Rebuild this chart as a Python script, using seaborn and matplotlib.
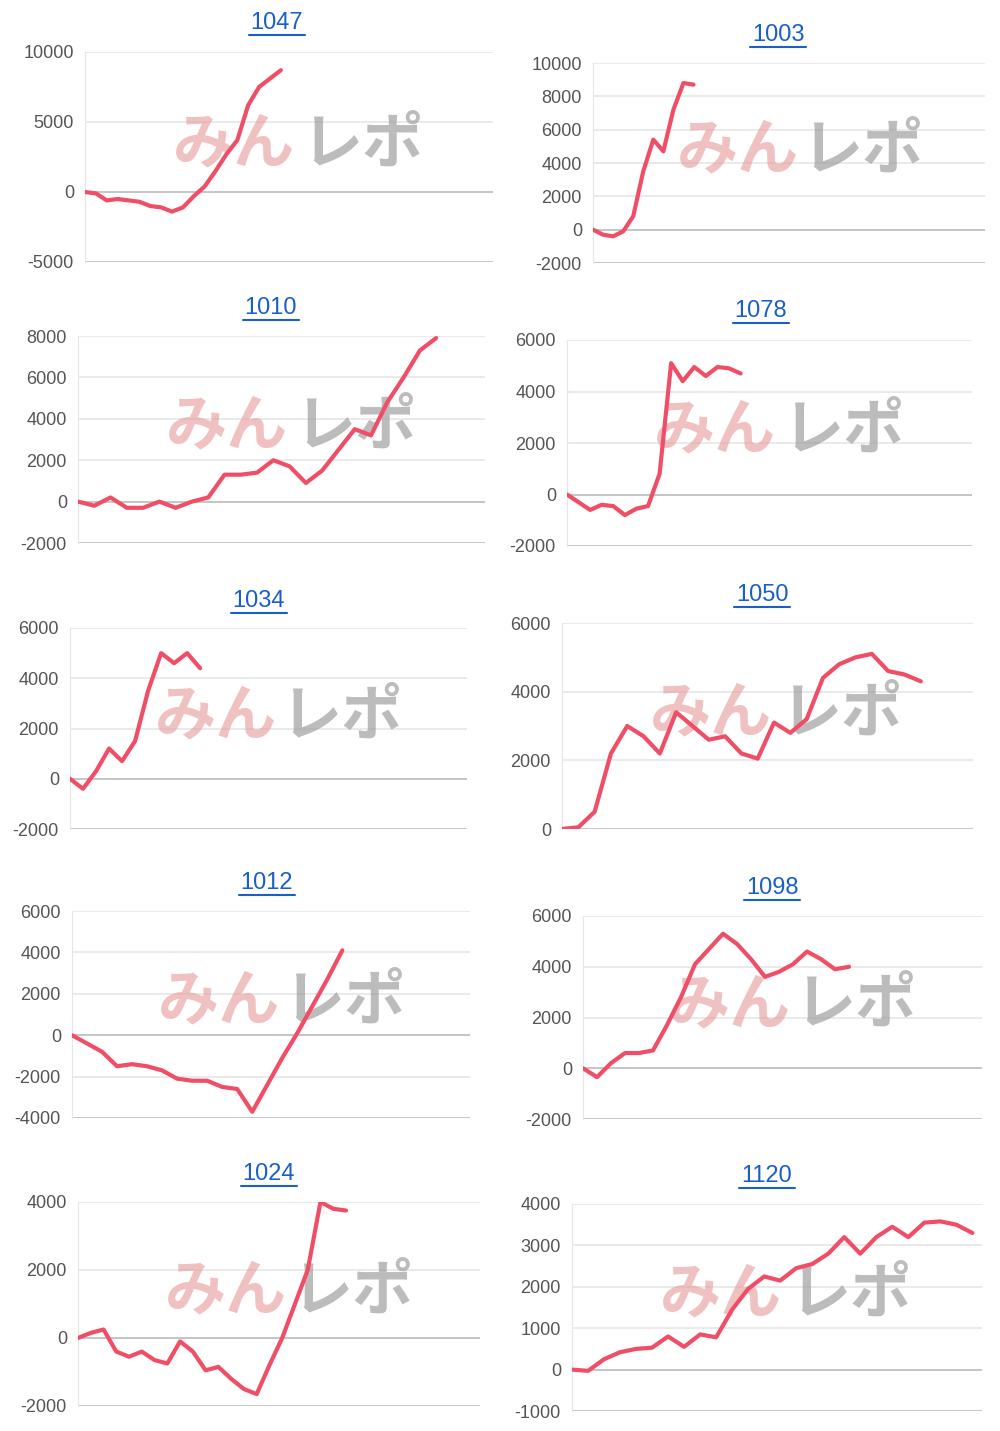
import matplotlib
matplotlib.use("Agg")
import matplotlib.pyplot as plt
import seaborn as sns
import pandas as pd

sns.set_style("white")
plt.rcParams['font.family'] = ['Liberation Sans', 'Noto Sans CJK JP', 'DejaVu Sans']

titles = ["1047", "1003", "1010", "1078", "1034", "1050", "1012", "1098", "1024", "1120"]

v1047 = [0, -100, -600, -500, -600, -700, -1000, -1100, -1400, -1100, -300, 400, 1500, 2700, 3700, 6200, 7500, 8100, 8700]
v1003 = [0, -300, -400, -100, 800, 3500, 5400, 4700, 7200, 8800, 8700]
v1010 = [0, -200, 200, -300, -300, 0, -300, 0, 200, 1300, 1300, 1400, 2000, 1700, 900, 1500, 2500, 3500, 3200, 4800, 6000, 7300, 7900]
v1078 = [0, -300, -600, -400, -450, -800, -550, -450, 800, 5100, 4400, 4950, 4600, 4950, 4900, 4700]
v1034 = [0, -400, 300, 1200, 700, 1500, 3500, 5000, 4600, 5000, 4400]
v1050 = [0, 50, 500, 2200, 3000, 2700, 2200, 3400, 3000, 2600, 2700, 2200, 2050, 3100, 2800, 3200, 4400, 4800, 5000, 5100, 4600, 4500, 4300]
v1012 = [0, -400, -800, -1500, -1400, -1500, -1700, -2100, -2200, -2200, -2500, -2600, -3700, -2400, -1100, 100, 1400, 2700, 4100]
v1098 = [0, -350, 200, 600, 600, 700, 1700, 2800, 4100, 4700, 5300, 4900, 4300, 3600, 3800, 4100, 4600, 4300, 3900, 4000]
v1024 = [0, 150, 250, -400, -550, -400, -650, -750, -100, -400, -950, -850, -1200, -1500, -1650, -800, 0, 1000, 2000, 4000, 3800, 3750]
v1120 = [0, -30, 250, 420, 500, 530, 800, 550, 850, 780, 1450, 1950, 2250, 2150, 2450, 2550, 2800, 3200, 2800, 3200, 3450, 3200, 3550, 3580, 3500, 3300]

series = [v1047, v1003, v1010, v1078, v1034, v1050, v1012, v1098, v1024, v1120]
yticks = [[-5000, 0, 5000, 10000], [-2000, 0, 2000, 4000, 6000, 8000, 10000],
          [-2000, 0, 2000, 4000, 6000, 8000], [-2000, 0, 2000, 4000, 6000],
          [-2000, 0, 2000, 4000, 6000], [0, 2000, 4000, 6000],
          [-4000, -2000, 0, 2000, 4000, 6000], [-2000, 0, 2000, 4000, 6000],
          [-2000, 0, 2000, 4000], [-1000, 0, 1000, 2000, 3000, 4000]]
xmax = [37.5, 39, 25, 35, 30.5, 25.2, 26.5, 28.5, 31.5, 25.6]
# pixel geometry: left, right, top, bottom, title y, title x
geom = [(85, 493, 52, 262, 23, 277), (593, 985, 63, 263, 35, 778),
        (78, 485, 336, 543, 308, 271), (567, 972, 340, 546, 311, 761),
        (70, 467, 628, 829, 601, 259), (562, 973, 623, 829, 595, 762),
        (72, 470, 911, 1118, 883, 267), (583, 982, 916, 1119, 888, 772),
        (78, 480, 1202, 1406, 1174, 269), (572, 982, 1204, 1411, 1176, 767)]

W, H = 1000, 1431
fig = plt.figure(figsize=(W / 100, H / 100), dpi=100)
for t, vals, yt, xm, (l, r, tp, bt, ty, tx) in zip(titles, series, yticks, xmax, geom):
    ax = fig.add_axes([l / W, 1 - bt / H, (r - l) / W, (bt - tp) / H])
    df = pd.DataFrame({"x": range(len(vals)), "y": vals})
    ax.set_ylim(yt[0], yt[-1])
    ax.set_xlim(0, xm)
    ax.set_yticks(yt)
    ax.set_yticklabels([str(v) for v in yt], fontsize=13, color="#555555")
    ax.set_xticks([])
    for v in yt:
        ax.axhline(v, color="#bbbbbb" if v in (0, yt[0]) else "#e6e6e6", lw=1.2, zorder=0)
    for s in ["top", "right", "bottom"]:
        ax.spines[s].set_visible(False)
    ax.spines["left"].set_color("#e6e6e6")
    ax.tick_params(axis="y", length=6, color="#e6e6e6", pad=2)
    # watermark
    ax.text(0.215, 0.56, "みん", transform=ax.transAxes, fontsize=44, fontweight="bold",
            style="italic", color="#e8a0a0", alpha=0.65, va="center", ha="left",
            family=["Noto Sans CJK JP"], zorder=1)
    ax.text(0.53, 0.56, "レポ", transform=ax.transAxes, fontsize=44, fontweight="bold",
            style="italic", color="#999999", alpha=0.65, va="center", ha="left",
            family=["Noto Sans CJK JP"], zorder=1)
    sns.lineplot(data=df, x="x", y="y", ax=ax, color="#f04e66", lw=3, zorder=3)
    ax.set_xlabel("")
    ax.set_ylabel("")
    cx = tx / W
    fig.text(cx, 1 - ty / H, t, ha="center", va="center", fontsize=17, color="#1a5fc8")
    tw = 56 / W
    fig.add_artist(plt.Line2D([cx - tw / 2, cx + tw / 2], [1 - (ty + 12) / H] * 2,
                              color="#1a5fc8", lw=1.5))

fig.savefig("out.png", dpi=100, facecolor="white")
